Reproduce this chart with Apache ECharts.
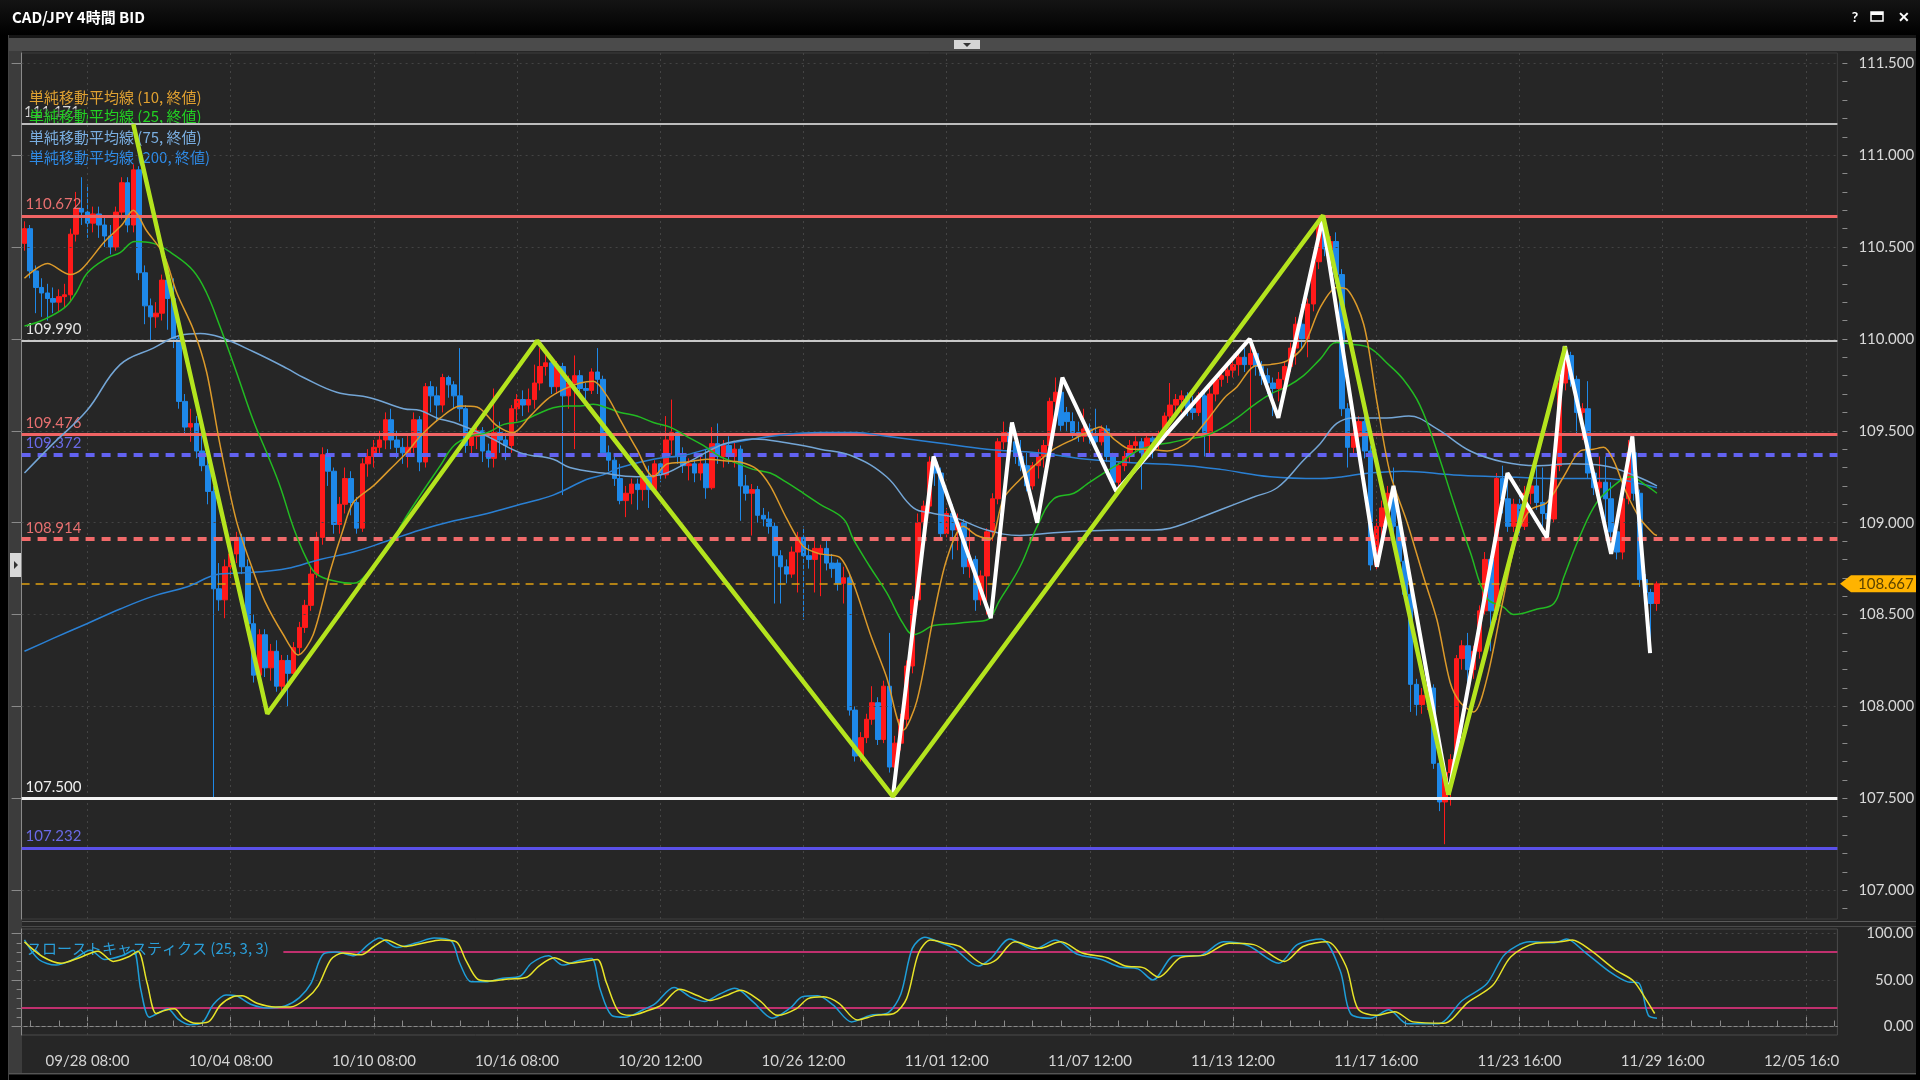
<!DOCTYPE html>
<html><head><meta charset="utf-8">
<script src="https://cdn.jsdelivr.net/npm/echarts@6/dist/echarts.min.js"></script>
<style>html,body{margin:0;padding:0;background:#000;}#c{width:1920px;height:1080px;}</style>
</head><body><div id="c"></div>
<script>
// ---------------- DATA ----------------
const tickLabels = ['09/28 08:00','10/04 08:00','10/10 08:00','10/16 08:00','10/20 12:00','10/26 12:00','11/01 12:00','11/07 12:00','11/13 12:00','11/17 16:00','11/23 16:00','11/29 16:00','12/05 16:00'];
const firstTickBar = 11;
const barsPerTick = 25;
const slotCount = 317;
const priceTicks = [107.0,107.5,108.0,108.5,109.0,109.5,110.0,110.5,111.0,111.5];
const stochTicks = [0,50,100];
const levelValues = [111.171,110.672,109.990,109.476,109.372,108.914,108.667,107.500,107.232];

// [open, close, low, high]
const candles = [
[110.52,110.60,110.48,110.64],[110.60,110.37,110.33,110.62],[110.37,110.28,110.14,110.40],[110.28,110.25,110.12,110.33],[110.25,110.22,110.10,110.30],
[110.22,110.20,110.14,110.28],[110.20,110.23,110.15,110.27],[110.23,110.24,110.17,110.30],[110.24,110.57,110.20,110.60],[110.57,110.71,110.53,110.80],
[110.71,110.69,110.62,110.88],[110.69,110.63,110.55,110.84],[110.63,110.68,110.58,110.72],[110.68,110.62,110.55,110.72],[110.62,110.56,110.50,110.66],
[110.56,110.50,110.46,110.62],[110.50,110.69,110.48,110.72],[110.69,110.85,110.65,110.88],[110.85,110.62,110.58,110.88],[110.62,110.92,110.58,110.95],
[110.92,110.36,110.32,110.94],[110.36,110.18,110.08,110.40],[110.18,110.12,109.99,110.22],[110.12,110.14,110.06,110.20],[110.14,110.32,110.10,110.35],
[110.32,110.22,110.05,110.34],[110.22,110.00,109.95,110.33],[110.00,109.66,109.62,110.02],[109.66,109.52,109.48,109.70],[109.52,109.54,109.44,109.62],
[109.54,109.39,109.35,109.58],[109.39,109.31,109.28,109.56],[109.31,109.17,109.10,109.35],[109.17,108.64,107.50,109.20],[108.64,108.58,108.52,108.78],
[108.58,108.76,108.48,108.80],[108.76,108.83,108.70,108.90],[108.83,108.92,108.78,108.95],[108.92,108.76,108.72,108.94],[108.76,108.45,108.40,108.80],
[108.45,108.17,108.13,108.50],[108.17,108.39,108.13,108.42],[108.39,108.21,108.16,108.42],[108.21,108.30,108.14,108.34],[108.30,108.11,108.08,108.36],
[108.11,108.25,108.06,108.28],[108.25,108.18,108.00,108.28],[108.18,108.32,108.14,108.35],[108.32,108.43,108.28,108.46],[108.43,108.55,108.40,108.58],
[108.55,108.72,108.52,108.76],[108.72,108.92,108.70,108.95],[108.92,109.37,108.88,109.41],[109.37,109.28,109.20,109.40],[109.28,108.99,108.94,109.30],
[108.99,109.10,108.94,109.14],[109.10,109.24,109.05,109.30],[109.24,109.11,109.04,109.28],[109.11,108.97,108.94,109.14],[108.97,109.32,108.95,109.35],
[109.32,109.36,109.25,109.40],[109.36,109.41,109.30,109.45],[109.41,109.45,109.36,109.50],[109.45,109.56,109.40,109.60],[109.56,109.45,109.40,109.62],
[109.45,109.41,109.35,109.50],[109.41,109.38,109.32,109.46],[109.38,109.41,109.30,109.48],[109.41,109.56,109.38,109.60],[109.56,109.33,109.28,109.58],
[109.33,109.74,109.30,109.76],[109.74,109.69,109.60,109.77],[109.69,109.64,109.55,109.74],[109.64,109.79,109.60,109.81],[109.79,109.75,109.68,109.80],
[109.75,109.69,109.62,109.77],[109.69,109.62,109.55,109.95],[109.62,109.42,109.38,109.64],[109.42,109.47,109.37,109.50],[109.47,109.50,109.40,109.53],
[109.50,109.39,109.33,109.52],[109.39,109.35,109.30,109.43],[109.35,109.49,109.30,109.73],[109.49,109.45,109.38,109.55],[109.45,109.42,109.34,109.49],
[109.42,109.62,109.38,109.64],[109.62,109.67,109.55,109.70],[109.67,109.64,109.58,109.72],[109.64,109.67,109.60,109.73],[109.67,109.76,109.62,109.86],
[109.76,109.85,109.72,109.95],[109.85,109.87,109.80,109.92],[109.87,109.74,109.70,109.88],[109.74,109.85,109.70,109.88],[109.85,109.69,109.15,109.87],
[109.69,109.76,109.62,109.80],[109.76,109.80,109.40,109.91],[109.80,109.73,109.68,109.83],[109.73,109.72,109.66,109.76],[109.72,109.82,109.70,109.84],
[109.82,109.78,109.70,109.95],[109.78,109.38,109.36,109.80],[109.38,109.34,109.28,109.42],[109.34,109.24,109.20,109.37],[109.24,109.12,109.10,109.32],
[109.12,109.16,109.03,109.20],[109.16,109.21,109.10,109.24],[109.21,109.18,109.07,109.24],[109.18,109.25,109.12,109.28],[109.25,109.18,109.08,109.31],
[109.18,109.32,109.16,109.34],[109.32,109.26,109.22,109.33],[109.26,109.45,109.24,109.58],[109.45,109.49,109.37,109.67],[109.49,109.36,109.32,109.50],
[109.36,109.31,109.27,109.41],[109.31,109.32,109.23,109.35],[109.32,109.27,109.22,109.34],[109.27,109.32,109.23,109.36],[109.32,109.19,109.13,109.40],
[109.19,109.43,109.18,109.52],[109.43,109.36,109.32,109.54],[109.36,109.42,109.30,109.45],[109.42,109.36,109.32,109.47],[109.36,109.40,109.30,109.44],
[109.40,109.20,109.01,109.42],[109.20,109.16,109.12,109.26],[109.16,109.18,108.93,109.21],[109.18,109.04,109.00,109.20],[109.04,109.02,108.98,109.08],
[109.02,108.98,108.94,109.06],[108.98,108.82,108.56,109.00],[108.82,108.76,108.56,108.85],[108.76,108.72,108.67,108.80],[108.72,108.84,108.70,108.87],
[108.84,108.92,108.62,108.95],[108.92,108.82,108.47,108.98],[108.82,108.80,108.75,108.88],[108.80,108.86,108.62,108.90],[108.83,108.86,108.60,108.88],
[108.86,108.78,108.74,108.90],[108.78,108.75,108.70,108.83],[108.78,108.67,108.63,108.80],[108.67,108.70,108.56,108.76],[108.70,107.98,107.95,108.72],
[107.98,107.73,107.70,108.00],[107.73,107.83,107.70,107.86],[107.83,107.93,107.80,107.96],[107.93,108.02,107.90,108.11],[108.02,107.82,107.79,108.05],
[107.82,108.11,107.80,108.14],[108.11,107.67,107.64,108.40],[107.67,107.80,107.58,107.84],[107.80,107.93,107.76,107.96],[107.93,108.22,107.88,108.25],
[108.22,108.58,108.18,108.60],[108.58,109.00,108.55,109.05],[109.00,109.09,108.90,109.12],[109.09,109.33,109.05,109.36],[109.33,109.27,109.20,109.36],
[109.27,108.94,108.90,109.30],[108.94,109.05,108.92,109.08],[109.05,108.96,108.80,109.10],[108.96,109.00,108.85,109.05],[109.00,108.76,108.72,109.02],
[108.76,108.80,108.70,108.97],[108.80,108.58,108.52,108.82],[108.58,108.71,108.55,108.74],[108.71,108.95,108.50,108.97],[108.95,109.13,108.90,109.16],
[109.13,109.44,109.10,109.46],[109.44,109.49,109.40,109.55],[109.49,109.44,109.40,109.52],[109.44,109.36,109.32,109.48],[109.36,109.31,109.28,109.45],
[109.31,109.20,109.17,109.38],[109.20,109.31,109.18,109.33],[109.31,109.36,109.24,109.40],[109.36,109.42,109.30,109.45],[109.42,109.66,109.40,109.68],
[109.66,109.71,109.60,109.79],[109.71,109.53,109.50,109.72],[109.60,109.55,109.50,109.63],[109.55,109.49,109.46,109.60],[109.49,109.47,109.44,109.55],
[109.47,109.51,109.44,109.62],[109.51,109.47,109.43,109.54],[109.47,109.44,109.40,109.62],[109.44,109.51,109.42,109.53],[109.51,109.36,109.33,109.53],
[109.36,109.22,109.19,109.38],[109.22,109.31,109.20,109.33],[109.31,109.36,109.28,109.39],[109.36,109.42,109.33,109.45],[109.42,109.44,109.38,109.47],
[109.44,109.38,109.18,109.46],[109.38,109.46,109.35,109.48],[109.46,109.44,109.35,109.47],[109.44,109.47,109.40,109.50],[109.47,109.58,109.45,109.60],
[109.58,109.64,109.55,109.76],[109.64,109.67,109.58,109.70],[109.67,109.69,109.60,109.72],[109.69,109.62,109.58,109.71],[109.62,109.60,109.56,109.69],
[109.60,109.69,109.58,109.71],[109.69,109.49,109.36,109.71],[109.49,109.70,109.36,109.74],[109.70,109.78,109.66,109.80],[109.78,109.80,109.74,109.84],
[109.80,109.83,109.76,109.87],[109.83,109.86,109.79,109.90],[109.86,109.90,109.80,109.93],[109.90,109.86,109.82,109.95],[109.86,109.92,109.49,110.00],
[109.92,109.85,109.80,109.94],[109.85,109.80,109.75,109.88],[109.80,109.76,109.70,109.84],[109.76,109.73,109.58,109.79],[109.73,109.78,109.66,109.82],
[109.78,109.85,109.72,109.88],[109.85,109.95,109.82,109.98],[109.95,110.08,109.86,110.12],[110.08,110.00,109.95,110.19],[110.00,110.19,109.90,110.22],
[110.19,110.42,110.15,110.45],[110.42,110.62,110.38,110.67],[110.62,110.49,110.45,110.64],[110.49,110.53,110.33,110.56],[110.53,110.35,110.30,110.58],
[110.35,109.62,109.58,110.38],[109.62,109.41,109.30,109.65],[109.41,109.47,109.38,109.52],[109.47,109.55,109.40,109.58],[109.55,109.39,109.35,109.58],
[109.39,108.77,108.74,109.42],[108.77,108.98,108.74,109.02],[108.98,109.08,108.90,109.12],[109.08,109.16,109.04,109.20],[109.16,108.98,108.94,109.30],
[108.98,108.79,108.76,109.02],[108.79,108.61,108.58,108.82],[108.61,108.12,107.97,108.64],[108.12,108.01,107.95,108.15],[108.01,108.06,107.96,108.10],
[108.06,108.10,107.98,108.12],[108.10,107.69,107.66,108.12],[107.69,107.48,107.43,107.72],[107.48,107.64,107.25,107.67],[107.64,107.71,107.46,107.74],
[107.71,108.26,107.68,108.28],[108.26,108.33,108.20,108.36],[108.33,108.20,108.10,108.40],[108.20,108.30,108.15,108.33],[108.30,108.52,108.26,108.55],
[108.52,108.80,108.50,108.84],[108.80,108.52,108.30,108.82],[108.52,109.24,108.47,109.27],[109.24,109.13,109.05,109.31],[109.13,108.98,108.95,109.26],
[108.98,109.10,108.95,109.13],[109.10,108.98,108.93,109.16],[108.98,109.16,108.96,109.20],[109.16,109.20,109.10,109.24],[109.20,109.11,109.07,109.31],
[109.11,109.05,108.95,109.30],[109.05,109.02,108.96,109.10],[109.02,109.31,109.00,109.34],[109.31,109.76,109.28,109.80],[109.76,109.91,109.72,109.96],
[109.91,109.78,109.74,109.93],[109.78,109.60,109.48,109.80],[109.60,109.62,109.45,109.65],[109.62,109.27,109.24,109.77],[109.27,109.19,109.15,109.30],
[109.19,109.22,109.08,109.36],[109.22,109.13,108.95,109.36],[109.13,108.95,108.92,109.22],[108.95,108.84,108.80,108.97],[108.84,109.13,108.80,109.16],
[109.13,109.38,109.10,109.45],[109.38,109.16,109.12,109.47],[109.16,108.69,108.65,109.18],[108.69,108.62,108.58,108.72],[108.62,108.56,108.29,108.64],
[108.56,108.667,108.52,108.68]
];

// moving averages: [bar, value]
const ma10 = [[0,110.33],[4,110.41],[8,110.35],[10,110.38],[14,110.53],[17,110.62],[19,110.70],[21.3,110.59],[24.3,110.46],[26.6,110.25],[29.5,110.05],[31.8,109.82],[34.1,109.43],[37,109.01],[39.9,108.74],[42,108.57],[45.2,108.39],[47.8,108.28],[50.4,108.39],[53.4,108.74],[55.7,108.97],[57.4,109.11],[60.9,109.20],[63.8,109.29],[66.7,109.38],[69.1,109.47],[72.6,109.57],[76.1,109.635],[79,109.63],[82.4,109.53],[85.3,109.49],[88.3,109.58],[91.2,109.67],[94.1,109.725],[97,109.76],[99.3,109.77],[101.7,109.69],[104,109.56],[106.9,109.40],[109.8,109.25],[112.2,109.32],[115.7,109.33],[119.1,109.345],[122.6,109.335],[124.9,109.33],[127.9,109.29],[130.2,109.2],[133.1,109.02],[136,108.87],[138.9,108.83],[142.4,108.81],[144.7,108.67],[147.6,108.40],[150.5,108.16],[153.4,107.87],[155.8,108.03],[158.7,108.49],[161,108.80],[163.9,108.98],[166.3,108.93],[168.6,108.91],[170.9,109.13],[173.8,109.235],[176.8,109.325],[179.7,109.40],[183.2,109.455],[185.5,109.49],[187.8,109.52],[190.2,109.455],[193.1,109.40],[196,109.40],[199.5,109.39],[203,109.435],[206.5,109.56],[209.5,109.68],[211.7,109.74],[214.6,109.85],[217.5,109.86],[220.4,109.88],[223.3,109.96],[226.2,110.17],[229.1,110.28],[230.9,110.27],[233.8,110.08],[236.1,109.66],[238.4,109.27],[241.4,109.0],[244.3,108.70],[246.6,108.47],[248.9,108.13],[250.7,108.02],[253,107.97],[255.3,108.15],[258.2,108.59],[260.6,108.93],[262.9,109.07],[265.8,109.11],[268.7,109.25],[271.6,109.39],[273.9,109.40],[275.7,109.41],[277.4,109.34],[279.7,109.16],[282.1,109.02],[284.4,108.94],[285,108.93]];
const ma25 = [[0,110.07],[3,110.10],[7,110.17],[9,110.25],[11,110.36],[14.4,110.44],[16.7,110.47],[19.3,110.53],[22.5,110.52],[26,110.46],[29.5,110.37],[31.8,110.25],[34.1,110.07],[37,109.82],[39.9,109.56],[42.3,109.38],[44.6,109.20],[47,108.97],[49.3,108.80],[51,108.72],[54.5,108.68],[57.4,108.67],[60.3,108.74],[63.3,108.85],[66.2,109.01],[69.1,109.15],[72.6,109.31],[75,109.42],[77.9,109.47],[80.8,109.49],[83.7,109.535],[86.6,109.55],[89.5,109.59],[92.3,109.625],[94.6,109.635],[97,109.635],[99.3,109.645],[101.7,109.625],[104,109.60],[106.9,109.58],[109.8,109.545],[112.7,109.52],[115.6,109.47],[118.5,109.42],[121.4,109.36],[124.3,109.325],[127.2,109.29],[130.2,109.27],[133,109.22],[136,109.16],[138.9,109.10],[143,109.02],[144.7,108.91],[147.6,108.76],[150.5,108.62],[153.4,108.45],[155.2,108.39],[156.3,108.40],[158.7,108.44],[162.2,108.45],[165.1,108.46],[168,108.47],[170.3,108.58],[173.8,108.76],[176.8,108.98],[179.7,109.13],[183.2,109.16],[185.5,109.21],[188.4,109.27],[191.3,109.325],[194.2,109.39],[197.1,109.42],[200,109.435],[203,109.455],[205.9,109.47],[208.8,109.51],[211.7,109.57],[214.6,109.64],[217.5,109.70],[220.4,109.74],[223.3,109.80],[226.2,109.89],[229.1,109.98],[232,109.97],[234.9,109.95],[237.8,109.87],[240.7,109.78],[243.6,109.64],[246.6,109.39],[249.5,109.11],[252.4,108.84],[255.3,108.59],[258.2,108.54],[260,108.50],[264.1,108.53],[267,108.56],[268.7,108.70],[271.6,108.93],[274.5,109.11],[277.4,109.20],[280.3,109.25],[283.2,109.20],[285,109.16]];
const ma75 = [[0,109.27],[5,109.43],[10.9,109.61],[16.7,109.86],[22.5,109.95],[27.2,110.02],[30.7,110.03],[34.1,110.01],[40,109.93],[45.8,109.84],[48.7,109.79],[54.5,109.71],[60.3,109.68],[66.2,109.62],[69.1,109.61],[72,109.57],[75,109.545],[80.8,109.47],[86.6,109.38],[92.3,109.345],[95.2,109.30],[101,109.27],[106.9,109.25],[111,109.26],[115.6,109.325],[121.4,109.42],[124.3,109.445],[127.2,109.455],[133,109.435],[138.9,109.40],[144.7,109.36],[150.5,109.25],[155.2,109.08],[158.7,109.05],[162.2,109.03],[168,108.96],[173.8,108.93],[179.7,108.945],[185.5,108.955],[191.3,108.96],[197.1,108.96],[200,108.97],[203,109.0],[205.9,109.035],[208.8,109.07],[214.6,109.14],[218.7,109.19],[223.3,109.34],[226.2,109.43],[229.1,109.54],[232,109.57],[234.9,109.57],[237.8,109.57],[241.7,109.58],[246.6,109.51],[252.4,109.39],[258.2,109.33],[264.1,109.31],[269.9,109.32],[275.7,109.31],[281.6,109.25],[285,109.20]];
const ma200 = [[0,108.30],[5,108.37],[10.9,108.45],[16.7,108.53],[22.5,108.60],[28.3,108.65],[34.1,108.72],[40,108.73],[45.8,108.75],[51.6,108.80],[57.4,108.84],[63.3,108.90],[69.1,108.96],[75,109.01],[80.8,109.05],[86.6,109.10],[92.3,109.15],[98.1,109.235],[101,109.26],[104,109.30],[109.8,109.345],[115.6,109.37],[121.4,109.42],[127.2,109.455],[133,109.48],[138.9,109.49],[145,109.49],[150.5,109.47],[159.3,109.435],[168,109.40],[176.8,109.38],[185.5,109.345],[194.2,109.325],[203,109.31],[208.8,109.29],[217.5,109.25],[226.2,109.24],[234.9,109.27],[240.7,109.28],[249.5,109.26],[258.2,109.25],[267,109.24],[275.7,109.24],[285,109.19]];

// hand-drawn zigzags: [bar, price]
const zigzagGreen = [[19.0,111.17],[42.4,107.96],[89.5,109.99],[151.6,107.51],[226.7,110.672],[248.6,107.52],[269.0,109.96]];
const zigzagWhite = [[151.6,107.51],[158.7,109.36],[168.7,108.48],[172.4,109.545],[176.8,109.0],[181.2,109.79],[190.6,109.17],[213.9,110.0],[218.9,109.57],[226.6,110.65],[236.1,108.76],[239.0,109.20],[248.6,107.52],[258.9,109.27],[265.8,108.92],[268.9,109.96],[277.0,108.83],[280.7,109.47],[283.8,108.29]];

// slow stochastics (25,3,3): [bar, value]
const stochK = [[0,93],[2.5,72],[5.5,66],[8.5,72],[11.5,82],[14,72],[17,76],[19,82],[20.3,40],[21.8,10],[23.5,15],[25,19],[26.8,8],[28.8,2],[31,4],[33,24],[35.2,34],[37,33],[39.5,24],[42.5,20],[45.5,22],[48,31],[50,46],[52.2,78],[54.5,80],[57.5,76],[60,88],[62,95],[65,85],[68.5,90],[71.5,95],[74.5,92],[76,68],[78,48],[80.5,48],[83.5,52],[86.5,54],[88.5,68],[91.5,76],[94,66],[96.8,71],[99,73],[100.5,40],[102.5,12],[104.8,10],[108,18],[110,24],[113.4,42],[116.5,31],[118.7,27],[121.4,35],[124,41],[127.3,26],[130.5,9],[133.7,20],[135.8,32],[138.5,33],[141.2,23],[144.4,5],[147.6,12],[150.8,15],[153,35],[155,84],[157.2,96],[160,90],[162.3,84],[166.5,65],[168.7,73],[172,94],[176.2,83],[180,93],[183.7,78],[188,72],[191.2,64],[194.4,62],[197,50],[200.8,76],[205,76],[209.3,91],[213.6,87],[219,68],[222.2,88],[226.4,94],[229.7,60],[231.5,14],[235,9],[238.2,18],[241.4,3],[246.8,3],[251,28],[255.3,46],[258.5,78],[262.8,91],[267.1,90],[269.2,94],[272.4,80],[276.7,59],[279.9,48],[281.8,47],[283.5,12],[285,9]];
const stochD = [[0,91],[3.2,75],[6.4,68],[9.6,74],[12.8,81],[15.5,70],[18.2,75],[19.8,81],[21.4,47],[23,14],[24.6,17.5],[26.2,19],[27.8,9],[29.9,3.5],[32.1,5],[34.2,23],[36.4,32],[38,33],[40.6,25],[43.8,21],[46.5,21],[49.2,30],[51.3,44],[53.5,72],[55.6,79],[58.8,77],[61,86],[63.1,93],[66.3,86],[69.5,89.5],[72.7,93],[75.4,91],[77,72],[79.1,51],[81.3,49],[84.5,51],[87.7,53],[89.8,65],[92.5,74],[95.2,68],[97.8,70],[100,72],[101.6,47],[103.7,16],[105.8,12],[109,17.5],[111.2,23],[114.4,40],[117.6,33],[119.7,28],[122.4,33],[125.1,39],[128.3,28],[131.5,12],[134.7,19],[136.8,30],[139.5,32],[142.2,25],[145.4,7],[148.6,12],[151.8,14],[154,30],[156.1,79],[158.2,93],[160.9,89.5],[163.3,86],[167.6,67],[169.7,72],[172.9,91],[177.2,84],[180.9,91],[184.7,79],[189,74],[192.2,65],[195.4,63],[198,53],[201.8,74],[206.1,77],[210.3,89.5],[214.6,88],[220,70],[223.2,86],[227.4,91],[230.7,65],[232.8,19],[236,12],[239.2,16],[242.4,5],[247.8,3.5],[252,26],[256.3,44],[259.5,75],[263.8,89.5],[268.1,91],[270.2,93],[273.4,82],[277.7,61],[280.9,49],[283,30],[284.6,14]];
const stochLevels = [80, 20];

// ---------------- CHART ----------------
const FONT = 'Lato, "Noto Sans CJK JP", sans-serif';
const JP = '"Noto Sans CJK JP", Lato, sans-serif';
const UP = '#ff1a1a', DOWN = '#1e88e8';
const GRID_L = 21.6, GRID_R = 1837.4;
const categories = Array.from({length: slotCount}, (_, i) => 'b' + i);
const toX = arr => arr.map(p => [p[0] + 0.5, p[1]]);
const majorX = tickLabels.map((_, k) => firstTickBar + k * barsPerTick + 0.5);
const minorX = [];
for (let v = majorX[0] % 5; v <= slotCount; v += 5) minorX.push(v);
const minorPrice = [];
for (let i = 0; i <= 46; i++) { const v = +(106.9 + i * 0.1).toFixed(1); if (v < 111.56) minorPrice.push(v); }
const minorStoch = [0,10,20,30,40,50,60,70,80,90,100];

const levelStyles = [
  {color:'#bdbdbd', width:2, type:'solid', label:null},
  {color:'#f06464', width:3, type:'solid', label:'#e87070'},
  {color:'#c8c8c8', width:2, type:'solid', label:'#e4e4e4'},
  {color:'#f06464', width:3, type:'solid', label:'#e87070'},
  {color:'#6262f0', width:4, type:[9,7], label:'#6a6ae6'},
  {color:'#f06a6a', width:4, type:[9,7], label:'#e87070'},
  {color:'#e0a010', width:1.5, type:[8,6], label:null},
  {color:'#f4f4f4', width:3, type:'solid', label:'#f0f0f0'},
  {color:'#5a50e8', width:3, type:'solid', label:'#6a6ae6'}
];
const levelLines = levelValues.map((v, i) => {
  const s = levelStyles[i];
  return {
    yAxis: v,
    lineStyle: {color: s.color, width: s.width, type: s.type},
    label: s.label ? {show: true, position: 'insideStartTop', distance: 4, formatter: v.toFixed(3),
      color: s.label, fontSize: 15, fontFamily: FONT} : {show: false}
  };
});

const gridMarks = priceTicks.map(v => ({yAxis: v})).concat(majorX.map(x => ({xAxis: x})));
const stochGridMarks = stochTicks.map(v => ({yAxis: v})).concat(majorX.map(x => ({xAxis: x})));

const chart = echarts.init(document.getElementById('c'), null, {renderer: 'canvas', width: 1920, height: 1080});

const lineSeries = (name, data, color, z, width, smooth) => ({
  name, type: 'line', xAxisIndex: 1, yAxisIndex: 0, data: toX(data), showSymbol: false, symbol: 'none',
  smooth: smooth, lineStyle: {color, width}, itemStyle: {color}, z, silent: true
});

const legendBg = 'rgba(38,38,38,0.6)';
const baseGraphic = [
  {id:'left', type:'rect', shape:{x:0, y:0, width:9, height:1080}, style:{fill:'#000'}, z:-10},
  {id:'leftLine', type:'rect', shape:{x:8, y:34, width:1, height:1046}, style:{fill:'#444'}, z:-9},
  {id:'rightB', type:'rect', shape:{x:1916, y:0, width:4, height:1080}, style:{fill:'#000'}, z:-10},
  {id:'bottomB', type:'rect', shape:{x:0, y:1075, width:1920, height:5}, style:{fill:'#000'}, z:-10},
  {id:'bottomLine', type:'rect', shape:{x:9, y:1073, width:1907, height:1}, style:{fill:'#555'}, z:-9},
  {id:'title', type:'rect', shape:{x:0, y:0, width:1920, height:35},
    style:{fill:{type:'linear', x:0, y:0, x2:0, y2:1, colorStops:[{offset:0, color:'#141414'},{offset:1, color:'#000'}]}}, z:-8},
  {id:'titleGap', type:'rect', shape:{x:9, y:35, width:1907, height:3}, style:{fill:'#151515'}, z:-8},
  {id:'titleText', type:'text', x:12, y:17, style:{text:'CAD/JPY 4時間 BID', fill:'#fff', font:'bold 15px ' + JP, verticalAlign:'middle'}, z:-7},
  {id:'q', type:'text', x:1855, y:17, style:{text:'?', fill:'#fff', font:'bold 14px ' + FONT, align:'center', verticalAlign:'middle'}, z:-7},
  {id:'win', type:'rect', shape:{x:1871, y:12, width:12, height:9}, style:{fill:'none', stroke:'#fff', lineWidth:1.5}, z:-7},
  {id:'winTop', type:'rect', shape:{x:1871, y:12, width:12, height:3}, style:{fill:'#fff'}, z:-7},
  {id:'x', type:'text', x:1904, y:17, style:{text:'✕', fill:'#fff', font:'bold 14px ' + FONT, align:'center', verticalAlign:'middle'}, z:-7},
  {id:'band', type:'rect', shape:{x:9, y:38, width:1907, height:13}, style:{fill:'#4b4b4b'}, z:-8},
  {id:'drop', type:'rect', shape:{x:954, y:40, width:26, height:9}, style:{fill:'#d4d4d4'}, z:-7},
  {id:'dropTri', type:'polygon', shape:{points:[[963,43],[971,43],[967,47]]}, style:{fill:'#333'}, z:-6},
  {id:'strip', type:'rect', shape:{x:9, y:51, width:13, height:1022}, style:{fill:'#3c3c3c'}, z:-8},
  {id:'stripBtn', type:'rect', shape:{x:10, y:553, width:11, height:24}, style:{fill:'#d8d8d8'}, z:-7},
  {id:'stripTri', type:'polygon', shape:{points:[[14,561],[14,569],[18,565]]}, style:{fill:'#333'}, z:-6},
  {id:'sep1', type:'rect', shape:{x:22, y:921, width:1894, height:1}, style:{fill:'#5a5a5a'}, z:-5},
  {id:'sep2', type:'rect', shape:{x:22, y:926, width:1894, height:1}, style:{fill:'#4a4a4a'}, z:-5},
  {id:'stochLeg', type:'text', x:27, y:948, style:{text:'スローストキャスティクス (25, 3, 3)', fill:'#2a9ed8', font:'15px ' + JP, verticalAlign:'middle'}, z:4},
  {id:'cut', type:'rect', shape:{x:1839, y:1050, width:77, height:22}, style:{fill:'#262626'}, z:50}
];

chart.setOption({
  animation: false,
  backgroundColor: '#262626',
  grid: [
    {left: GRID_L, right: 1920 - GRID_R, top: 53, bottom: 1080 - 919, show: true, backgroundColor: '#262626', borderColor: '#3c3c3c', borderWidth: 1},
    {left: GRID_L, right: 1920 - GRID_R, top: 929, bottom: 1080 - 1035, show: true, backgroundColor: '#262626', borderColor: '#4a4a4a', borderWidth: 1}
  ],
  xAxis: [
    {type: 'category', gridIndex: 0, data: categories, boundaryGap: true, show: false, position: 'bottom'},
    {type: 'value', gridIndex: 0, min: 0, max: slotCount, show: false, position: 'bottom'},
    {type: 'value', gridIndex: 1, min: 0, max: slotCount, position: 'bottom', offset: 10,
      axisLine: {show: true, lineStyle: {color: '#8a8a8a', width: 1}},
      axisTick: {show: true, inside: true, length: 11, customValues: majorX, lineStyle: {color: '#8a8a8a'}},
      axisLabel: {show: true, customValues: majorX, margin: 9, color: '#d4d4d4', fontSize: 15, fontFamily: FONT,
        formatter: v => tickLabels[Math.round((v - majorX[0]) / barsPerTick)] || ''},
      splitLine: {show: false}},
    {type: 'value', gridIndex: 1, min: 0, max: slotCount, position: 'bottom', offset: 10,
      axisLine: {show: false}, axisLabel: {show: false}, splitLine: {show: false},
      axisTick: {show: true, inside: true, length: 6, customValues: minorX, lineStyle: {color: '#8a8a8a'}}}
  ],
  yAxis: [
    {type: 'value', gridIndex: 0, position: 'right', offset: 10, min: 106.843, max: 111.556, scale: true,
      axisLine: {show: true, lineStyle: {color: '#8a8a8a'}},
      axisTick: {show: true, inside: true, length: 10, customValues: priceTicks, lineStyle: {color: '#8a8a8a'}},
      axisLabel: {show: true, customValues: priceTicks, margin: 11, color: '#d8d8d8', fontSize: 15, fontFamily: FONT,
        formatter: v => v.toFixed(3)},
      splitLine: {show: false}},
    {type: 'value', gridIndex: 0, position: 'right', offset: 10, min: 106.843, max: 111.556, scale: true,
      axisLine: {show: false}, axisLabel: {show: false}, splitLine: {show: false},
      axisTick: {show: true, inside: true, length: 5, customValues: minorPrice, lineStyle: {color: '#8a8a8a'}}},
    {type: 'value', gridIndex: 1, position: 'right', offset: 10, min: -9.1, max: 104.8, scale: true,
      axisLine: {show: true, lineStyle: {color: '#8a8a8a'}},
      axisTick: {show: true, inside: true, length: 10, customValues: stochTicks, lineStyle: {color: '#8a8a8a'}},
      axisLabel: {show: true, customValues: stochTicks, margin: 66, align: 'right', color: '#d8d8d8', fontSize: 15, fontFamily: FONT,
        formatter: v => v.toFixed(2)},
      splitLine: {show: false}},
    {type: 'value', gridIndex: 1, position: 'right', offset: 10, min: -9.1, max: 104.8, scale: true,
      axisLine: {show: false}, axisLabel: {show: false}, splitLine: {show: false},
      axisTick: {show: true, inside: true, length: 5, customValues: minorStoch, lineStyle: {color: '#8a8a8a'}}}
  ],
  series: [
    {name: 'grid', type: 'line', xAxisIndex: 1, yAxisIndex: 0, data: [], z: 1, silent: true,
      markLine: {silent: true, symbol: ['none','none'], animation: false, label: {show: false},
        lineStyle: {color: '#444444', width: 1, type: [2, 4]}, data: gridMarks}},
    {name: 'CAD/JPY', type: 'candlestick', xAxisIndex: 0, yAxisIndex: 0, data: candles, barWidth: 5, z: 2, silent: true,
      itemStyle: {color: UP, color0: DOWN, borderColor: UP, borderColor0: DOWN, borderWidth: 1}},
    {name: 'levels', type: 'line', xAxisIndex: 1, yAxisIndex: 0, data: [], z: 3, silent: true,
      markLine: {silent: true, symbol: ['none','none'], animation: false, data: levelLines}},
    lineSeries('MA200', ma200, '#2a80d4', 5, 1.5, 0.4),
    lineSeries('MA75', ma75, '#74a6d6', 5, 1.5, 0.4),
    lineSeries('MA25', ma25, '#22bb22', 5, 1.5, 0.4),
    lineSeries('MA10', ma10, '#dc9a2a', 5, 1.5, 0.3),
    lineSeries('zigzagWhite', zigzagWhite, '#ffffff', 6, 4, false),
    lineSeries('zigzagGreen', zigzagGreen, '#b4e41e', 7, 4.5, false),
    {name: 'stochGrid', type: 'line', xAxisIndex: 2, yAxisIndex: 2, data: [], z: 1, silent: true,
      markLine: {silent: true, symbol: ['none','none'], animation: false, label: {show: false},
        lineStyle: {color: '#474747', width: 1, type: [2, 4]}, data: stochGridMarks}},
    {name: 'stochLevels', type: 'line', xAxisIndex: 2, yAxisIndex: 2, data: [], z: 3, silent: true,
      markLine: {silent: true, symbol: ['none','none'], animation: false, label: {show: false},
        lineStyle: {color: '#c0306e', width: 2, type: 'solid'},
        data: [[{coord: [45.7, stochLevels[0]]}, {coord: [slotCount, stochLevels[0]]}], {yAxis: stochLevels[1]}]}},
    {name: '%K', type: 'line', xAxisIndex: 2, yAxisIndex: 2, data: toX(stochK), showSymbol: false, symbol: 'none', smooth: 0.3,
      lineStyle: {color: '#1e9ed8', width: 1.5}, z: 5, silent: true},
    {name: '%D', type: 'line', xAxisIndex: 2, yAxisIndex: 2, data: toX(stochD), showSymbol: false, symbol: 'none', smooth: 0.3,
      lineStyle: {color: '#e8e428', width: 1.5}, z: 6, silent: true}
  ],
  graphic: baseGraphic
});

// price tags that depend on the price scale
const lastClose = candles[candles.length - 1][1];
const yCur = chart.convertToPixel({yAxisIndex: 0}, lastClose);
const yTop = chart.convertToPixel({yAxisIndex: 0}, levelValues[0]);
chart.setOption({graphic: baseGraphic.concat([
  {id:'topLbl', type:'text', x: 24, y: yTop - 12, style:{text: levelValues[0].toFixed(3), fill:'#d8d8d8', font:'15px ' + FONT, verticalAlign:'middle'}, z: 3},
  {id:'leg1', type:'text', x:29, y:97, style:{text:'単純移動平均線 (10, 終値)', fill:'#e0a030', font:'15px ' + JP, verticalAlign:'middle'}, z:4},
  {id:'leg2', type:'text', x:29, y:116, style:{text:'単純移動平均線 (25, 終値)', fill:'#22d022', font:'15px ' + JP, verticalAlign:'middle', backgroundColor: legendBg}, z:4},
  {id:'leg3', type:'text', x:29, y:137, style:{text:'単純移動平均線 (75, 終値)', fill:'#7aaee0', font:'15px ' + JP, verticalAlign:'middle'}, z:4},
  {id:'leg4', type:'text', x:29, y:157, style:{text:'単純移動平均線 (200, 終値)', fill:'#2e8ae6', font:'15px ' + JP, verticalAlign:'middle'}, z:4},
  {id:'curTag', type:'polygon', shape:{points:[[1840, yCur],[1851, yCur - 8.5],[1916, yCur - 8.5],[1916, yCur + 8.5],[1851, yCur + 8.5]]},
    style:{fill:'#ffb300'}, z: 60},
  {id:'curText', type:'text', x: 1858, y: yCur, style:{text: lastClose.toFixed(3), fill:'#5a4200', font:'15px ' + FONT, verticalAlign:'middle'}, z: 61}
])});
</script>
</body></html>
